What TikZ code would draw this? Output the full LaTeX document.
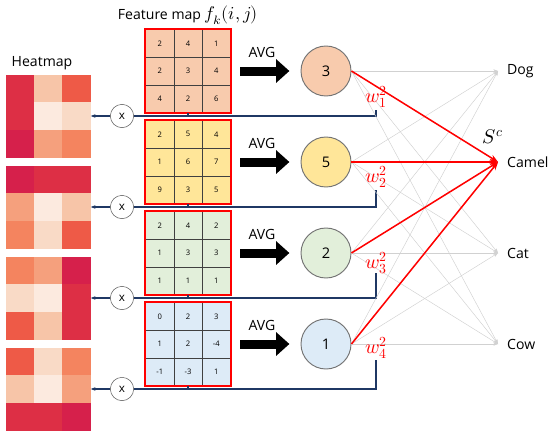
\documentclass[tikz,border=0pt]{standalone}
\usepackage{fontspec}
\usepackage{unicode-math}
\setmainfont{Open Sans}
\setmathfont{Latin Modern Math}[Scale=1.3]
\usetikzlibrary{arrows.meta, positioning}

\definecolor{fmA}{HTML}{F8CBAD}
\definecolor{fmB}{HTML}{FFE699}
\definecolor{fmC}{HTML}{E2EFDA}
\definecolor{fmD}{HTML}{DDEBF7}
\definecolor{hmA}{HTML}{D6204B}
\definecolor{hmB}{HTML}{DD2F45}
\definecolor{hmC}{HTML}{EE5A47}
\definecolor{hmD}{HTML}{F4845F}
\definecolor{hmE}{HTML}{F5A07D}
\definecolor{hmF}{HTML}{F7C5A8}
\definecolor{hmG}{HTML}{F9DAC6}
\definecolor{hmH}{HTML}{FCEADF}
\definecolor{navy}{HTML}{1F3864}

\begin{document}
\begin{tikzpicture}[
    x=0.03cm, y=-0.03cm,
    cell/.style={draw=black!75, thin, minimum width=0.85cm, minimum height=0.83cm,
                 inner sep=0pt, font=\fontsize{6.5}{7}\selectfont},
    hcell/.style={minimum width=0.84cm, minimum height=0.83cm, inner sep=0pt},
    fmframe/.style={minimum width=2.55cm, minimum height=2.49cm, inner sep=0pt},
    avgarrow/.style={-{Triangle[width=0.69cm, length=0.4cm]}, line width=0.27cm},
    neuron/.style={circle, draw=black!55, thick, minimum size=1.5cm,
                   font=\fontsize{12.5}{14}\selectfont},
    mult/.style={circle, draw=black!70, thin, fill=white, minimum size=0.7cm,
                 inner sep=0pt, font=\fontsize{10}{12}\selectfont},
    backline/.style={navy, line width=1pt},
    backarrow/.style={-{Stealth[length=4pt]}, navy, line width=1pt},
    weak/.style={-{Stealth[length=4pt]}, black!18, thin},
    strong/.style={-{Stealth[length=7pt]}, red, line width=1.3pt},
    label/.style={font=\fontsize{12}{14}\selectfont},
    wlab/.style={text=red, font=\fontsize{13}{15}\selectfont},
]
\useasboundingbox (0,0) rectangle (557,445);

% ===================== TITLES =====================
\node[font=\fontsize{12}{14}\selectfont] (fmtitle) at (188, 15) {Feature map $f_k(i,j)$};
\node[label] (hmtitle) at (42, 63) {Heatmap};

% ===================== FEATURE MAPS =====================
% one row per channel k: grid, AVG arrow, pooled neuron
\foreach \k/\y/\t/\col/\vals in {1/71/110/fmA/{2,4,1,2,3,4,4,2,6},
                                  2/162/190/fmB/{2,5,4,1,6,7,9,3,5},
                                  3/253/273/fmC/{2,4,2,1,3,3,1,1,1},
                                  4/344/360/fmD/{0,2,3,1,2,-4,-1,-3,1}} {

    % Grid
    \node[fmframe, fill=\col] (fm\k) at (188, \y) {};
    \foreach \v [count=\n from 0] in \vals {
        \pgfmathtruncatemacro\rr{div(\n,3)}
        \pgfmathtruncatemacro\cc{mod(\n,3)}
        \node[cell] (fm\k-\n) at (188+28.3*\cc-28.3, \y-27.7+27.7*\rr) {\v};
    }
    \draw[red, line width=1.5pt] (fm\k.south west) rectangle (fm\k.north east);

    % AVG
    \node[neuron, fill=\col] (c\k) at (326, \y) {};
    \draw[avgarrow, shorten <=8pt, shorten >=9.5pt] (fm\k.east) -- (c\k.west);
    \node[label] (avg\k) at (262, \y-19) {AVG};

    % Back path to heatmap
    \node[mult] (x\k) at (122, \y+45) {x};
    \node[fmframe] (hm\k) at (48, \y+45) {};
    \coordinate (tap\k) at (376, \t);
    \draw[backline] (tap\k) |- (x\k.east);
    \draw[backarrow] (x\k.west) -- (hm\k.east);
    \draw[backline] (fm\k.south) -- ++(0, 3.5);
}

% pooled values
\node[font=\fontsize{12.5}{14}\selectfont] at (c1) {3};
\node[font=\fontsize{12.5}{14}\selectfont] at (c2) {5};
\node[font=\fontsize{12.5}{14}\selectfont] at (c3) {2};
\node[font=\fontsize{12.5}{14}\selectfont] at (c4) {1};

% ===================== HEATMAPS =====================
\foreach \k/\y/\cols in {1/116/{hmB,hmF,hmC,hmB,hmH,hmG,hmA,hmE,hmD},
                         2/207/{hmA,hmB,hmB,hmE,hmH,hmF,hmD,hmG,hmC},
                         3/298/{hmD,hmE,hmA,hmG,hmH,hmB,hmC,hmF,hmB},
                         4/389/{hmC,hmG,hmD,hmF,hmH,hmE,hmB,hmB,hmA}} {
    \foreach \c [count=\n from 0] in \cols {
        \pgfmathtruncatemacro\rr{div(\n,3)}
        \pgfmathtruncatemacro\cc{mod(\n,3)}
        \node[hcell, fill=\c, draw=\c, line width=0.2pt] (hm\k-\n)
            at (48+28*\cc-28, \y-27.5+27.5*\rr) {};
    }
}

% ===================== CLASSES =====================
\foreach \j/\y/\lab in {1/71/Dog, 2/162/Camel, 3/253/Cat, 4/344/Cow} {
    \coordinate (o\j) at (498, \y);
    \node[label, anchor=west, inner sep=0pt] (lab\j) at (507, \y) {\lab};
}

% fully connected layer
\foreach \i in {1,...,4} {
    \foreach \j in {1,...,4} {
        \draw[weak] (c\i.east) -- (o\j);
    }
}
\foreach \i in {1,...,4} {
    \draw[strong] (c\i.east) -- (o2);
}

% weights
\foreach \i/\y in {1/97, 2/177, 3/263, 4/348} {
    \node[wlab] (w\i) at (376, \y) {$w_{\i}^{2}$};
}
\node[font=\fontsize{13}{15}\selectfont] (sc) at (493, 137) {$S^c$};

\end{tikzpicture}
\end{document}
